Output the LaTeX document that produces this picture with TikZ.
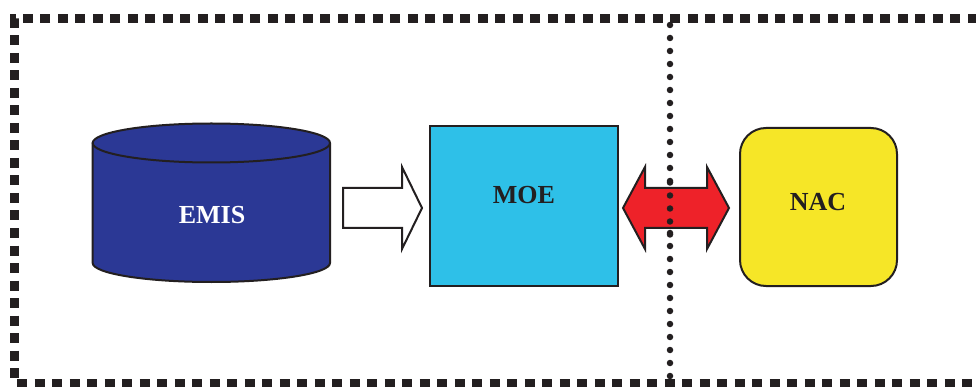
\documentclass[tikz,border=0pt]{standalone}
\usepackage{fontspec}
\setmainfont{Liberation Serif}
\definecolor{emisblue}{HTML}{2B3895}
\definecolor{moecyan}{HTML}{2EC0E8}
\definecolor{nacyellow}{HTML}{F6E627}
\definecolor{arrred}{HTML}{EE2229}
\definecolor{ink}{HTML}{231F20}
\tikzset{
  shapeline/.style={draw=ink, line width=2pt, line join=miter},
  lbl/.style={font=\fontsize{26}{30}\selectfont\bfseries, inner sep=0pt},
  frameline/.style={draw=ink, line width=9pt, dash pattern=on 10pt off 7.5pt},
  dotline/.style={draw=ink, line width=6.5pt, line cap=round, dash pattern=on 0pt off 13pt},
}
\begin{document}
\begin{tikzpicture}[x=1pt,y=-1pt]
\useasboundingbox (0,0) rectangle (976,387);
\fill[white] (0,0) rectangle (976,387);
% frame
\draw[frameline] (995,18.5) -- (14.5,18.5) -- (14.5,383) -- (995,383);
% dotted divider
\coordinate (dtop) at (670,25);
\coordinate (dbot) at (670,390);
\draw[dotline] (dtop) -- (dbot);
% EMIS cylinder
\draw[shapeline, fill=emisblue]
  (92.7,143) -- (92.7,263) arc[start angle=180, end angle=0, x radius=118.65, y radius=19]
  -- (330,143) arc[start angle=0, end angle=-180, x radius=118.65, y radius=19.5] -- cycle;
\draw[shapeline] (92.7,143) arc[start angle=180, end angle=0, x radius=118.65, y radius=19.5];
\node[lbl, text=white] (emis) at (212,215) {EMIS};
% MOE box
\node[shapeline, fill=moecyan, minimum width=188pt, minimum height=160pt, inner sep=0pt] (moebox) at (524,206) {};
\node[lbl, text=ink] (moe) at (524,195) {MOE};
% NAC box
\node[shapeline, fill=nacyellow, rounded corners=26pt, minimum width=157pt, minimum height=158pt, inner sep=0pt] (nacbox) at (818.5,207) {};
\node[lbl, text=ink] (nac) at (818,202) {NAC};
% white block arrow EMIS -> MOE
\draw[shapeline, fill=white]
  (343,188) -- (402,188) -- (402,167) -- (422,208) -- (402,249) -- (402,228) -- (343,228) -- cycle;
% red double arrow MOE <-> NAC
\draw[shapeline, fill=arrred]
  (623,208) -- (645,167) -- (645,188) -- (707,188) -- (707,167) -- (729,208)
  -- (707,249) -- (707,228) -- (645,228) -- (645,249) -- cycle;
\draw[dotline] (670,182.5) -- (670,240);
\end{tikzpicture}
\end{document}
